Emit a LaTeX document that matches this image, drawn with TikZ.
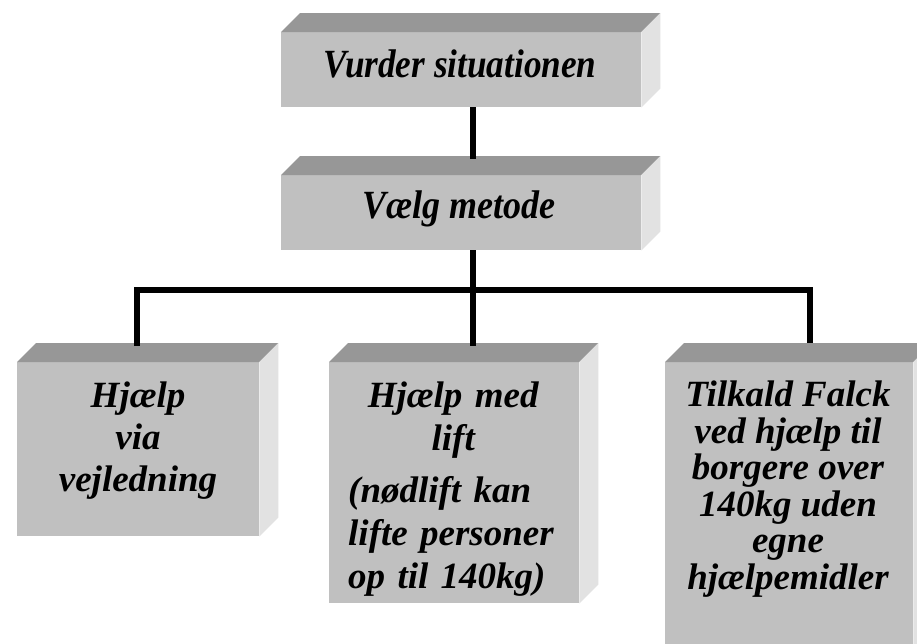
\documentclass[tikz,border=0pt]{standalone}
\usepackage{graphicx}
\usepackage{fontspec}
\setmainfont{Liberation Serif}
\usetikzlibrary{calc}
\definecolor{frontgray}{HTML}{C0C0C0}
\definecolor{topgray}{HTML}{979797}
\definecolor{sidegray}{HTML}{E2E2E2}
\tikzset{
  front/.style={fill=frontgray, draw=none, inner sep=0pt, anchor=north west},
  conn/.style={line width=6pt, black, line join=miter},
  lbl/.style={inner sep=0pt, align=center},
  bigtxt/.style={font=\fontsize{40}{46}\selectfont\bfseries\itshape},
}
\newcommand{\mycube}[6]{%
  \node[front, minimum width=#4pt, minimum height=#5pt] (#1) at (#2,#3) {};
  \fill[topgray] (#1.north west) -- ++(#6,-#6) -- ($(#1.north east)+(#6,-#6)$) -- (#1.north east) -- cycle;
  \fill[sidegray] (#1.north east) -- ++(#6,-#6) -- ($(#1.south east)+(#6,-#6)$) -- (#1.south east) -- cycle;
}
\begin{document}
\begin{tikzpicture}[x=1pt,y=-1pt]
\fill[white] (0,0) rectangle (917,643);
\useasboundingbox (0,0) rectangle (917,643);
\clip (0,0) rectangle (917,643);

\mycube{vs}{281}{32}{360}{75}{19}
\mycube{vm}{281}{175}{360}{75}{19}
\mycube{lb}{17}{362}{242}{174}{19}
\mycube{mb}{329}{362}{250}{241}{19}
\mycube{rb}{665}{362}{248}{300}{19}

\node[lbl, bigtxt, anchor=base] (vstxt) at (460,77) {\scalebox{0.88}[1]{Vurder situationen}};
\node[lbl, bigtxt, anchor=base] (vmtxt) at (459,218) {\scalebox{0.9}[1]{Vælg metode}};

\node[lbl, anchor=north, font=\fontsize{37}{42}\selectfont\bfseries\itshape] (lbtxt) at (138,382)
  {Hjælp\\via\\vejledning};
\node[lbl, anchor=north west, text width=210pt, font=\fontsize{37}{43}\selectfont\bfseries\itshape] (mbtxt) at (348,382)
  {Hjælp med\\lift\\[9pt]\makebox[210pt][l]{(nødlift kan}\\\makebox[210pt][l]{lifte personer}\\\makebox[210pt][l]{op til 140kg)}};
\node[lbl, anchor=north, font=\fontsize{37}{36.5}\selectfont\bfseries\itshape] (rbtxt) at (788,381)
  {Tilkald Falck\\ved hjælp til\\borgere over\\140kg uden\\egne\\hjælpemidler};

\coordinate (c1) at (473,0);
\coordinate (busL) at (137,290);
\coordinate (busR) at (810,290);

\draw[conn] (vs.south -| c1) -- ($(vm.north -| c1)+(0,-16)$);
\draw[conn] (vm.south -| c1) -- (busL -| c1);
\draw[conn] ($(lb.north -| busL)+(0,-16)$) -- (busL) -- (busR) -- ($(rb.north -| busR)+(0,-19)$);
\draw[conn] (busL -| c1) -- ($(mb.north -| c1)+(0,-16)$);
\end{tikzpicture}
\end{document}
